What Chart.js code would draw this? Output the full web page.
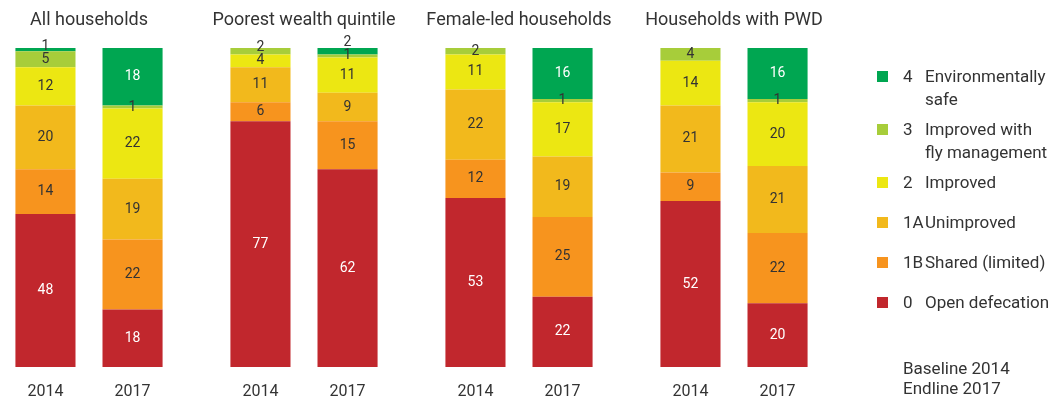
<!DOCTYPE html>
<html>
<head>
<meta charset="utf-8">
<script src="https://cdn.jsdelivr.net/npm/chart.js@4/dist/chart.umd.min.js"></script>
<style>
	body { margin: 0; background: #fff; }
	#wrap { position: relative; width: 1056px; height: 403px; overflow: hidden; }
	#legend {
		position: absolute; left: 877px; top: 65px;
		font-family: Roboto, sans-serif; font-size: 17px; color: #333;
		line-height: 23px; white-space: nowrap;
	}
	.item { display: flex; padding-bottom: 7px; min-height: 33px; }
	.box { width: 11px; height: 11px; margin-top: 6px; margin-right: 15px; flex: none; }
	.code { width: 22px; flex: none; }
	.name { white-space: pre-line; }
	#note {
		position: absolute; left: 903px; top: 358px;
		font-family: Roboto, sans-serif; font-size: 17px; color: #333; line-height: 20px;
	}
</style>
</head>
<body>
<div id="wrap">
	<canvas id="chart" width="1056" height="403"></canvas>
	<div id="legend"></div>
	<div id="note">Baseline 2014<br>Endline 2017</div>
</div>
<script>
const groups = ['All households', 'Poorest wealth quintile', 'Female-led households', 'Households with PWD']
const years = ['2014', '2017']

// sanitation levels, bottom of the stack first
const levelCodes = ['0', '1B', '1A', '2', '3', '4']
const levelNames = ['Open defecation', 'Shared (limited)', 'Unimproved', 'Improved', 'Improved with\nfly management', 'Environmentally\nsafe']
const levelColors = ['#c1272d', '#f7941e', '#f2b91c', '#ece712', '#a7cd3a', '#00a651']

// % of households, one value per group
const open2014 = [48, 77, 53, 52]
const shared2014 = [14, 6, 12, 9]
const unimproved2014 = [20, 11, 22, 21]
const improved2014 = [12, 4, 11, 14]
const fly2014 = [5, 2, 2, 4]
const safe2014 = [1, 0, 0, 0]

const open2017 = [18, 62, 22, 20]
const shared2017 = [22, 15, 25, 22]
const unimproved2017 = [19, 9, 19, 21]
const improved2017 = [22, 11, 17, 20]
const fly2017 = [1, 1, 1, 1]
const safe2017 = [18, 2, 16, 16]

const values = {
	'2014': [open2014, shared2014, unimproved2014, improved2014, fly2014, safe2014],
	'2017': [open2017, shared2017, unimproved2017, improved2017, fly2017, safe2017],
}

const FONT = 'Roboto, sans-serif'
const TEXT = '#333333'

const datasets = []
years.forEach(year => {
	values[year].forEach((arr, i) => {
		datasets.push({
			label: levelCodes[i] + ' ' + levelNames[i],
			data: arr,
			backgroundColor: levelColors[i],
			borderWidth: 0,
			stack: year,
			level: i,
			clip: false,
		})
	})
})

// group titles, numbers inside the segments, year under each bar
const labelPlugin = {
	id: 'barLabels',
	afterDatasetsDraw(chart) {
		const ctx = chart.ctx
		const area = chart.chartArea
		const xScale = chart.scales.x
		ctx.save()
		ctx.textAlign = 'center'
		ctx.textBaseline = 'middle'

		ctx.font = '18px ' + FONT
		ctx.fillStyle = TEXT
		chart.data.labels.forEach((name, i) => {
			ctx.fillText(name, xScale.getPixelForTick(i), 20)
		})

		ctx.font = '14px ' + FONT
		const perStack = levelCodes.length
		years.forEach((year, yi) => {
			groups.forEach((g, gi) => {
				let lastY = Infinity
				for (let li = 0; li < perStack; li++) {
					const di = yi * perStack + li
					const ds = chart.data.datasets[di]
					const el = chart.getDatasetMeta(di).data[gi]
					const v = ds.data[gi]
					if (!v) continue
					let y = (el.y + el.base) / 2
					// push a label up when it would sit on the one below
					if (lastY - y < 13) y = lastY - 13
					lastY = y
					const white = (li === 0 || li === 5) && v >= 5
					ctx.fillStyle = white ? '#ffffff' : TEXT
					ctx.fillText(String(v), el.x, y)
				}
			})
		})

		ctx.font = '16px ' + FONT
		ctx.fillStyle = TEXT
		years.forEach((year, yi) => {
			chart.getDatasetMeta(yi * perStack).data.forEach(el => {
				ctx.fillText(year, el.x, area.bottom + 25)
			})
		})
		ctx.restore()
	},
}

new Chart(document.getElementById('chart'), {
	type: 'bar',
	data: { labels: groups, datasets: datasets },
	options: {
		responsive: false,
		animation: false,
		categoryPercentage: 0.81,
		barPercentage: 0.69,
		layout: { padding: { left: 89, right: 322, top: 48, bottom: 36 } },
		plugins: { legend: { display: false }, tooltip: { enabled: false } },
		scales: {
			x: { offset: false, stacked: true, display: false },
			y: { stacked: true, display: false, min: 0, max: 100 },
		},
	},
	plugins: [labelPlugin],
})

// legend, top level first
const legend = document.getElementById('legend')
for (let i = levelCodes.length - 1; i >= 0; i--) {
	const item = document.createElement('div')
	item.className = 'item'
	item.innerHTML = '<span class="box" style="background:' + levelColors[i] + '"></span>' +
		'<span class="code">' + levelCodes[i] + '</span><span class="name"></span>'
	item.querySelector('.name').textContent = levelNames[i]
	legend.appendChild(item)
}
</script>
</body>
</html>
